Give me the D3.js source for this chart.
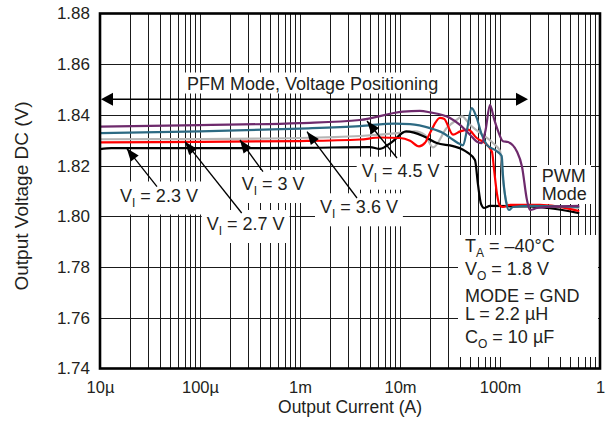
<!DOCTYPE html>
<html><head><meta charset="utf-8">
<script src="https://cdn.jsdelivr.net/npm/d3@7/dist/d3.min.js"></script>
<style>
body{margin:0;background:#fff}
svg{display:block}
text{font-family:"Liberation Sans",Arial,Helvetica,sans-serif;fill:#231f20}
</style>
</head><body>
<svg id="chart" width="608" height="423"></svg>
<script>
// ---------- data ----------
const xTickValues = [1e-5, 1e-4, 1e-3, 1e-2, 1e-1, 1];
const xTickLabels = ["10µ", "100µ", "1m", "10m", "100m", "1"];
const yTickValues = [1.74, 1.76, 1.78, 1.80, 1.82, 1.84, 1.86, 1.88];
const seriesNames = ["VI = 2.3 V", "VI = 2.7 V", "VI = 3 V", "VI = 3.6 V", "VI = 4.5 V"];

// [output current (A), output voltage (V)]
const vi23 = [[1e-5,1.8265],[1.3e-5,1.8269],[1e-4,1.8269],[1e-3,1.8270],[5e-3,1.8273],[6.3e-3,1.8266],[8.3e-3,1.8293],[0.0115,1.8335],[0.0138,1.8330],[0.0170,1.8317],[0.0233,1.8289],[0.0339,1.8277],[0.0427,1.8263],[0.0479,1.8250],[0.0562,1.8222],[0.0603,1.8124],[0.0646,1.8049],[0.0692,1.8033],[0.0794,1.8041],[0.2,1.8039],[0.3,1.8033],[0.62,1.8013]];
const vi27 = [[1e-5,1.8292],[1e-4,1.8294],[1e-3,1.8297],[3.98e-3,1.8303],[6.31e-3,1.8311],[0.01,1.8309],[0.0126,1.8298],[0.0155,1.8276],[0.0178,1.8290],[0.02,1.8330],[0.0251,1.8388],[0.0275,1.8385],[0.0339,1.8322],[0.04,1.8335],[0.0479,1.8342],[0.0585,1.8309],[0.0736,1.8283],[0.0832,1.8254],[0.0871,1.8187],[0.0933,1.8088],[0.1,1.8041],[0.1072,1.8037],[0.126,1.8045],[0.251,1.8045],[0.62,1.8021]];
const vi30 = [[1e-5,1.8304],[1e-4,1.8305],[1e-3,1.8309],[3.98e-3,1.8317],[0.01,1.8329],[0.0141,1.8335],[0.0178,1.8320],[0.0214,1.8272],[0.0293,1.8348],[0.0369,1.8381],[0.0417,1.8394],[0.0501,1.8361],[0.0603,1.8335],[0.0851,1.8289],[0.1,1.8258],[0.107,1.8144],[0.117,1.8053],[0.126,1.8037],[0.158,1.8041],[0.62,1.8033]];
const vi36 = [[1e-5,1.8328],[1e-4,1.8335],[1e-3,1.8346],[3.98e-3,1.8356],[8.9e-3,1.8366],[0.0126,1.8364],[0.02,1.8348],[0.0269,1.8329],[0.0339,1.8302],[0.0398,1.8285],[0.0427,1.8280],[0.0467,1.8340],[0.0521,1.8427],[0.0585,1.8388],[0.0657,1.8322],[0.0736,1.8283],[0.0927,1.8257],[0.104,1.8238],[0.107,1.8163],[0.115,1.8057],[0.123,1.8025],[0.135,1.8037],[0.2,1.8041],[0.62,1.8037]];
const vi45 = [[1e-5,1.8354],[1e-4,1.8360],[1e-3,1.8368],[3.98e-3,1.8380],[0.0107,1.8413],[0.0158,1.8416],[0.02,1.8410],[0.0316,1.8388],[0.0398,1.8361],[0.0501,1.8322],[0.0603,1.8292],[0.0657,1.8289],[0.0717,1.8340],[0.0794,1.8440],[0.0871,1.8385],[0.0955,1.8337],[0.1072,1.8296],[0.120,1.8293],[0.148,1.8255],[0.166,1.8196],[0.186,1.8065],[0.2,1.8025],[0.234,1.8033],[0.295,1.8037],[0.62,1.8041]];

// ---------- layout ----------
const L = 100, R = 600, T = 13.5, B = 368.5;
const svg = d3.select("#chart");
const x = d3.scaleLog().domain([1e-5, 1]).range([L, R]);
const y = d3.scaleLinear().domain([1.74, 1.88]).range([B, T]);

// gridlines
const gridX = [];
[1e-5, 1e-4, 1e-3, 1e-2, 1e-1].forEach(d => { for (let k = 1; k <= 9; k++) { const v = k * d; if (v > 1e-5 * 1.001) gridX.push(v); } });
const gridY = yTickValues.slice(1, -1);

const gGrid = svg.append("g");
gGrid.append("g").attr("transform", `translate(0,${B})`)
  .call(d3.axisBottom(x).tickValues(gridX).tickSize(-(B - T)).tickFormat(""))
  .call(g => g.select(".domain").remove());
gGrid.append("g").attr("transform", `translate(${L},0)`)
  .call(d3.axisLeft(y).tickValues(gridY).tickSize(-(R - L)).tickFormat(""))
  .call(g => g.select(".domain").remove());
gGrid.selectAll("line").attr("stroke", "#1a1a1a").attr("stroke-width", 1).attr("shape-rendering", "crispEdges");

// tick labels
const gx = svg.append("g").attr("transform", `translate(0,${B})`)
  .call(d3.axisBottom(x).tickValues(xTickValues).tickSize(0).tickPadding(13).tickFormat((d, i) => xTickLabels[i]));
gx.select(".domain").remove();
gx.selectAll("text").style("font-size", "16.5px").attr("fill", "#231f20").style("font-family", '"Liberation Sans",Arial,sans-serif');
const gy = svg.append("g").attr("transform", `translate(${L},0)`)
  .call(d3.axisLeft(y).tickValues(yTickValues).tickSize(0).tickPadding(10).tickFormat(d3.format(".2f")));
gy.select(".domain").remove();
gy.selectAll("text").style("font-size", "17px").attr("fill", "#231f20").style("font-family", '"Liberation Sans",Arial,sans-serif');

// axis titles
svg.append("text").attr("x", 350).attr("y", 413).attr("text-anchor", "middle").style("font-size", "17.5px").text("Output Current (A)");
svg.append("text").attr("transform", "translate(28,196) rotate(-90)").attr("text-anchor", "middle").style("font-size", "19px").text("Output Voltage DC (V)");

// layers
const gBoxes = svg.append("g");
const gCurves = svg.append("g");
const gAnn = svg.append("g");

// fixed boxes
gBoxes.append("rect").attr("x", 458).attr("y", 235).attr("width", 140).attr("height", 122).attr("fill", "#fff");
gBoxes.append("rect").attr("x", 537).attr("y", 165).attr("width", 54).attr("height", 39).attr("fill", "#fff");

// curves
const line = d3.line().x(d => x(d[0])).y(d => y(d[1])).curve(d3.curveMonotoneX);
const series = [
  { name: seriesNames[2], data: vi30, color: "#b5b5b5" },
  { name: seriesNames[0], data: vi23, color: "#000000" },
  { name: seriesNames[1], data: vi27, color: "#ff0000" },
  { name: seriesNames[3], data: vi36, color: "#2d6a83" },
  { name: seriesNames[4], data: vi45, color: "#6e2a6c" }
];
gCurves.selectAll("path").data(series).join("path")
  .attr("d", d => line(d.data)).attr("fill", "none")
  .attr("stroke", d => d.color).attr("stroke-width", 2.2).attr("stroke-linejoin", "round");

// helpers
function arrowHead(g, x1, y1, x2, y2, len, half) {
  const a = Math.atan2(y2 - y1, x2 - x1);
  const bx = x2 - len * Math.cos(a), by = y2 - len * Math.sin(a);
  const px = -Math.sin(a) * half, py = Math.cos(a) * half;
  g.append("path").attr("d", `M${x2},${y2}L${bx + px},${by + py}L${bx - px},${by - py}Z`).attr("fill", "#000");
}
function subText(g, tx, ty, main, sub, rest, fs) {
  const t = g.append("text").attr("x", tx).attr("y", ty).style("font-size", fs + "px");
  t.append("tspan").text(main);
  t.append("tspan").attr("dy", 5).style("font-size", Math.round(fs * 0.68) + "px").text(sub);
  t.append("tspan").attr("dy", -5).text(rest);
  return t;
}
function boxFor(t, padX, padT, padB) {
  const b = t.node().getBBox();
  gBoxes.append("rect").attr("x", b.x - padX).attr("y", b.y - padT).attr("width", b.width + 2 * padX).attr("height", b.height + padT + padB).attr("fill", "#fff");
}

// PFM annotation
const pfm = gAnn.append("text").attr("x", 187).attr("y", 89.5).style("font-size", "18px").text("PFM Mode, Voltage Positioning");
boxFor(pfm, 2, 1, 0);
gAnn.append("line").attr("x1", 110).attr("x2", 518).attr("y1", 99.3).attr("y2", 99.3).attr("stroke", "#000").attr("stroke-width", 1.4);
arrowHead(gAnn, 200, 99.3, 101, 99.3, 12, 6.5);
arrowHead(gAnn, 400, 99.3, 528, 99.3, 12, 6.5);

// series labels
const labels = [
  { tx: 120, ty: 201.5, sub: "I", rest: " = 2.3 V", from: [157, 186.7], to: [126.7, 148.3] },
  { tx: 206.7, ty: 230, sub: "I", rest: " = 2.7 V", from: [241.7, 213], to: [185, 141.7] },
  { tx: 241.7, ty: 190, sub: "I", rest: " = 3 V", from: [263, 171.7], to: [240, 140] },
  { tx: 320, ty: 213.3, sub: "I", rest: " = 3.6 V", from: [357, 198], to: [307, 131.7] },
  { tx: 361.7, ty: 176.7, sub: "I", rest: " = 4.5 V", from: [397, 158], to: [367, 121] }
];
labels.forEach(l => {
  const t = subText(gAnn, l.tx, l.ty, "V", l.sub, l.rest, 18);
  boxFor(t, 5, 4, 5);
  gAnn.append("line").attr("x1", l.from[0]).attr("y1", l.from[1]).attr("x2", l.to[0]).attr("y2", l.to[1]).attr("stroke", "#000").attr("stroke-width", 1.3);
  arrowHead(gAnn, l.from[0], l.from[1], l.to[0], l.to[1], 13, 5);
});

// PWM label
const pw = gAnn.append("text").style("font-size", "18px");
pw.append("tspan").attr("x", 541.7).attr("y", 181.7).text("PWM");
pw.append("tspan").attr("x", 541.7).attr("y", 200).text("Mode");

// conditions box
subText(gAnn, 465, 251.7, "T", "A", " = –40°C", 18);
subText(gAnn, 465, 275, "V", "O", " = 1.8 V", 18);
gAnn.append("text").attr("x", 465).attr("y", 301.7).style("font-size", "18px").text("MODE = GND");
gAnn.append("text").attr("x", 465).attr("y", 320).style("font-size", "18px").text("L = 2.2 µH");
subText(gAnn, 465, 342.7, "C", "O", " = 10 µF", 18);

// frame
svg.append("rect").attr("x", L).attr("y", T).attr("width", R - L).attr("height", B - T)
  .attr("fill", "none").attr("stroke", "#000").attr("stroke-width", 2.6);
</script>
</body></html>
